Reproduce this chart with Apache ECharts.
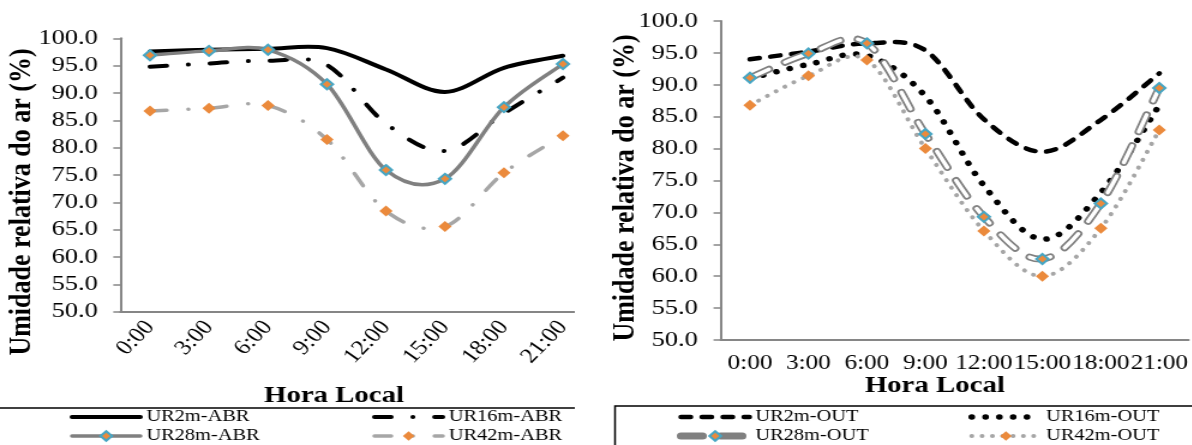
<!DOCTYPE html>
<html>
<head>
<meta charset="utf-8">
<script src="https://cdn.jsdelivr.net/npm/echarts@6/dist/echarts.min.js"></script>
<style>
  html, body { margin: 0; padding: 0; background: #fff; overflow: hidden; }
  /* the original figure is stretched horizontally, so draw narrower and stretch */
  #chart { width: 993px; height: 445px; transform: scaleX(1.2); transform-origin: 0 0; }
</style>
</head>
<body>
<div id="chart"></div>
<script>
const hours = ['0:00', '3:00', '6:00', '9:00', '12:00', '15:00', '18:00', '21:00']

// abril
const ur2mAbr = [97.6, 97.9, 98.1, 98.2, 94.3, 90.2, 94.6, 96.8]
const ur16mAbr = [94.8, 95.4, 95.9, 95.1, 84.4, 79.4, 86.3, 92.8]
const ur28mAbr = [96.9, 97.7, 97.9, 91.6, 75.9, 74.3, 87.4, 95.3]
const ur42mAbr = [86.7, 87.2, 87.7, 81.5, 68.4, 65.6, 75.4, 82.2]

// outubro
const ur2mOut = [94.0, 95.2, 96.5, 95.4, 84.6, 79.5, 84.5, 91.8]
const ur16mOut = [91.0, 93.2, 94.6, 88.2, 74.2, 65.8, 73.1, 86.8]
const ur28mOut = [91.1, 94.9, 96.5, 82.3, 69.3, 62.7, 71.4, 89.5]
const ur42mOut = [86.8, 91.4, 93.9, 80.0, 67.1, 60.0, 67.5, 82.9]

const FONT = 'Liberation Serif'
const ORANGE = '#eb8a3c'
const TEAL = '#47a6c4'
const AXIS_GRAY = '#868686'
const TENSION = 1 / 6 // excel-like smoothing (catmull-rom)

const xAxisBase = (gridIndex, rotate, margin) => ({
  type: 'category',
  gridIndex: gridIndex,
  data: hours,
  boundaryGap: true,
  axisLine: { lineStyle: { color: AXIS_GRAY, width: 2 } },
  axisTick: { length: 8, lineStyle: { color: AXIS_GRAY, width: 1.5 } },
  axisLabel: {
    interval: 0,
    rotate: rotate,
    margin: margin,
    fontFamily: FONT,
    fontSize: 21,
    color: '#000'
  }
})

const yAxisBase = (gridIndex) => ({
  type: 'value',
  gridIndex: gridIndex,
  min: 50,
  max: 100,
  interval: 5,
  axisLine: { show: true, lineStyle: { color: AXIS_GRAY, width: 2 } },
  axisTick: { show: true, length: 6, lineStyle: { color: AXIS_GRAY, width: 1.5 } },
  splitLine: { show: false },
  axisLabel: {
    margin: 19,
    fontFamily: FONT,
    fontSize: 22,
    color: '#000',
    formatter: (v) => v.toFixed(1)
  }
})

const legendBase = {
  orient: 'vertical',
  top: 408,
  height: 37,
  padding: 0,
  itemGap: 1,
  itemWidth: 57,
  itemHeight: 12,
  selectedMode: false,
  lineStyle: { width: 'inherit', opacity: 1 },
  textStyle: { fontFamily: FONT, fontSize: 17, lineHeight: 18, color: '#000' }
}

const axisTitle = (x, y, text, size, rotation) => ({
  type: 'text',
  x: x,
  y: y,
  rotation: rotation,
  style: {
    text: text,
    fontFamily: FONT,
    fontWeight: 'bold',
    fontSize: size,
    fill: '#000',
    align: 'center',
    verticalAlign: 'middle'
  }
})

function splinePath(p) {
  let d = 'M' + p[0][0] + ',' + p[0][1]
  for (let i = 0; i < p.length - 1; i++) {
    const p0 = p[i - 1] || p[i]
    const p1 = p[i]
    const p2 = p[i + 1]
    const p3 = p[i + 2] || p[i + 1]
    const c1x = p1[0] + (p2[0] - p0[0]) * TENSION
    const c1y = p1[1] + (p2[1] - p0[1]) * TENSION
    const c2x = p2[0] - (p3[0] - p1[0]) * TENSION
    const c2y = p2[1] - (p3[1] - p1[1]) * TENSION
    d += ' C' + c1x + ',' + c1y + ' ' + c2x + ',' + c2y + ' ' + p2[0] + ',' + p2[1]
  }
  return d
}

// smooth curve drawn through the axis scales; strokes is a list of line styles
function curve(idx, name, values, strokes) {
  return {
    name: name + '-curva',
    type: 'custom',
    xAxisIndex: idx,
    yAxisIndex: idx,
    z: 2,
    silent: true,
    data: values.map((v, i) => [i, v]),
    renderItem: (params, api) => {
      if (params.dataIndex !== 0) return
      const pts = values.map((v, i) => api.coord([i, v]))
      const d = splinePath(pts)
      return {
        type: 'group',
        children: strokes.map((s) => ({
          type: 'path',
          shape: { pathData: d },
          style: Object.assign({ fill: 'none', lineCap: 'round', lineJoin: 'round' }, s)
        }))
      }
    }
  }
}

// line series only gives the legend entry and the markers
function marks(idx, name, values, line, symbol) {
  return {
    name: name,
    type: 'line',
    xAxisIndex: idx,
    yAxisIndex: idx,
    z: 3,
    symbol: symbol ? 'diamond' : 'none',
    symbolSize: symbol ? symbol.size : 0,
    lineStyle: Object.assign({ cap: 'round', opacity: 0 }, line),
    // no marker: keep the legend icon as a bare line
    itemStyle: symbol ? symbol.style : { color: line.color, opacity: 0 },
    data: values
  }
}

const tealDiamond = { size: 10, style: { color: ORANGE, borderColor: TEAL, borderWidth: 2 } }
const orangeDiamond = { size: 11, style: { color: ORANGE } }
const dashDot = [14, 18, 0.1, 18]

const option = {
  backgroundColor: '#fff',
  animation: false,
  grid: [
    { left: 100.4, top: 38.3, width: 393.3, height: 273.4 },
    { left: 600.6, top: 21, width: 390, height: 319 }
  ],
  xAxis: [xAxisBase(0, 50, 12), xAxisBase(1, 0, 13)],
  yAxis: [yAxisBase(0), yAxisBase(1)],
  legend: [
    Object.assign({}, legendBase, { left: 58, data: ['UR2m-ABR', 'UR28m-ABR'] }),
    Object.assign({}, legendBase, { left: 310, data: ['UR16m-ABR', 'UR42m-ABR'] }),
    Object.assign({}, legendBase, { left: 564, data: ['UR2m-OUT', 'UR28m-OUT'] }),
    Object.assign({}, legendBase, { left: 807, data: ['UR16m-OUT', 'UR42m-OUT'] })
  ],
  graphic: [
    // the left picture is cut just after its last category
    { type: 'rect', z: 100, shape: { x: 479, y: 300, width: 22, height: 30 }, style: { fill: '#fff' } },
    { type: 'line', shape: { x1: 0, y1: 408, x2: 479, y2: 408 }, style: { stroke: '#000', lineWidth: 1.5 } },
    { type: 'polyline', shape: { points: [[512.5, 445], [512.5, 406], [993, 406]] }, style: { stroke: '#000', lineWidth: 1.5, fill: null } },
    axisTitle(18.3, 202, 'Umidade relativa do ar (%)', 26, Math.PI / 2),
    axisTitle(520.8, 188, 'Umidade relativa do ar (%)', 26, Math.PI / 2),
    axisTitle(278.3, 396, 'Hora Local', 24, 0),
    axisTitle(779, 386, 'Hora Local', 24, 0)
  ],
  series: [
    curve(0, 'UR2m-ABR', ur2mAbr, [{ stroke: '#000', lineWidth: 4 }]),
    curve(0, 'UR16m-ABR', ur16mAbr, [{ stroke: '#000', lineWidth: 4, lineDash: dashDot }]),
    curve(0, 'UR28m-ABR', ur28mAbr, [{ stroke: '#808080', lineWidth: 3.5 }]),
    curve(0, 'UR42m-ABR', ur42mAbr, [{ stroke: '#a6a6a6', lineWidth: 3.5, lineDash: dashDot }]),
    marks(0, 'UR2m-ABR', ur2mAbr, { color: '#000', width: 4 }),
    marks(0, 'UR16m-ABR', ur16mAbr, { color: '#000', width: 4, type: dashDot }),
    marks(0, 'UR28m-ABR', ur28mAbr, { color: '#808080', width: 3.5 }, tealDiamond),
    marks(0, 'UR42m-ABR', ur42mAbr, { color: '#a6a6a6', width: 3.5, type: dashDot }, orangeDiamond),

    curve(1, 'UR2m-OUT', ur2mOut, [{ stroke: '#000', lineWidth: 4.5, lineDash: [8, 9.5] }]),
    curve(1, 'UR16m-OUT', ur16mOut, [{ stroke: '#000', lineWidth: 5.5, lineDash: [0.1, 11.4] }]),
    curve(1, 'UR42m-OUT', ur42mOut, [{ stroke: '#a6a6a6', lineWidth: 4, lineDash: [0.1, 8.5] }]),
    curve(1, 'UR28m-OUT', ur28mOut, [
      { stroke: '#808080', lineWidth: 7, lineDash: [18, 15] },
      { stroke: '#fff', lineWidth: 3.5, lineDash: [18, 15] }
    ]),
    marks(1, 'UR2m-OUT', ur2mOut, { color: '#000', width: 4.5, type: [8, 9.5] }),
    marks(1, 'UR16m-OUT', ur16mOut, { color: '#000', width: 5.5, type: [0.1, 11.4] }),
    marks(1, 'UR28m-OUT', ur28mOut, { color: '#808080', width: 7, type: [18, 15] }, tealDiamond),
    marks(1, 'UR42m-OUT', ur42mOut, { color: '#a6a6a6', width: 4, type: [0.1, 8.5] }, orangeDiamond)
  ]
}

const chart = echarts.init(document.getElementById('chart'))
chart.setOption(option)
</script>
</body>
</html>
